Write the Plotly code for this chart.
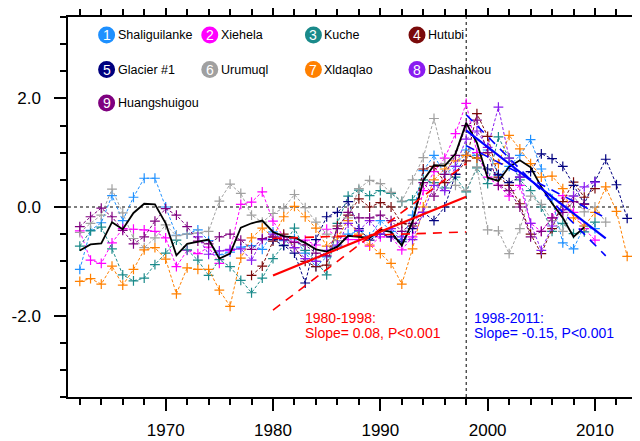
import plotly.graph_objects as go

# ---------------- data ----------------
names = ["Shaliguilanke", "Xiehela", "Kuche", "Hutubi", "Glacier #1",
         "Urumuql", "Xldaqlao", "Dashankou", "Huangshuigou"]
colors = ["#1E90FF", "#FF00FF", "#1A8A8A", "#7A0A0A", "#00007F",
          "#A0A0A0", "#FF8000", "#8A1CF0", "#7F007F"]

start_years = [1962, 1962, 1962, 1978, 1980, 1962, 1962, 1973, 1962]

shaliguilanke = [-1.15, -0.43, -0.29, 0.21, -0.25, 0.18, 0.53, 0.53,
                 0.00, -0.52, -0.50, -0.42, -0.62, -0.88, -0.83, -0.74, -0.71, -0.78,
                 -0.46, -0.62, -0.58, -0.85, -1.10, -0.92, -0.72, -0.50, -0.45, -0.55,
                 -0.25, -0.45, -0.60, -0.15, 0.67, 0.95, 0.60, 0.75, 1.05, 0.95,
                 1.05, 0.58, 0.75, 0.95, 1.24, 0.70, 0.15, -0.66, -0.77, -0.35, -0.40]
xiehela = [-0.44, -0.98, -1.04, -0.66, -0.40, -0.41, -0.42, -0.45,
           -0.57, -1.10, -0.80, -0.86, -0.74, -1.04, -0.80, 0.05, 0.09, 0.28,
           -0.26, -0.55, -0.65, -0.61, -0.70, -0.41, -0.55, -0.60, -0.60, -0.72,
           -0.55, -0.55, -0.79, -0.55, 0.30, 0.65, 0.90, 1.35, 1.91, 1.00,
           0.55, 0.40, 0.20, 0.40, -0.30, -0.45, -0.20, 0.21, -0.10, -0.40, -0.61]
kuche = [-0.72, -0.44, -0.37, -0.77, -1.25, -1.36, -1.31, -1.06,
         -0.85, -0.61, -0.79, -0.98, -1.26, -0.97, -1.10, -1.35, -1.58, -1.31,
         -0.95, -0.70, -0.39, -0.80, -1.00, -1.25, -0.30, 0.20, 0.31, 0.21,
         0.30, 0.25, 0.10, 0.13, 0.50, 0.45, 0.35, 0.55, 0.28, 0.72,
         0.43, 1.29, 0.90, 0.50, 0.30, 0.00, -0.45, -0.30, -0.49, -0.46, -0.28]
hutubi = [-1.26, -1.09,
          -0.63, -0.50, -0.75, -1.00, -1.10, -1.07, -0.35, -0.15, 0.15, 0.00,
          0.08, 0.00, -0.30, -0.35, 0.70, 0.75, 0.45, 0.60, 0.85, 1.72,
          1.30, 0.55, 0.40, 0.06, -0.50, -0.86, -0.40, 0.10, 0.46, 0.18, 0.34]
glacier1 = [-0.60, -0.71, -0.85, -1.40, -0.60, -0.18, -0.10, 0.10, -0.40, -0.61,
            -0.50, -0.55, -0.64, -0.40, -0.10, -0.25, 0.00, 0.60, 0.95, 0.90,
            0.70, 0.60, 0.45, 0.55, 0.65, 0.98, 0.89, 0.75, 0.40, 0.06, 0.47, 0.88, 0.41, -0.21]
urumuqi = [-0.47, -0.30, -0.15, 0.33, -0.11, -0.58, -0.75, -0.57,
           -0.33, -0.53, -0.50, -0.48, -0.45, 0.11, 0.42, 0.25, -0.15, -0.28,
           -0.12, -0.02, 0.23, -0.01, -0.28, -0.50, -0.62, -0.20, 0.34, 0.49,
           0.43, 0.27, 0.11, 0.50, 0.91, 1.63, 0.80, 0.40, 0.30, 0.74,
           -0.42, -0.44, -0.86, -0.40, 0.20, 0.05, -0.25, -0.45, 0.21, -0.09, 0.00, -0.28]
xidaqiao = [-1.37, -1.32, -1.42, -1.09, -1.44, -1.15, -0.79, -0.75,
            -0.96, -1.60, -1.12, -1.15, -1.15, -1.53, -1.83, -0.94, -0.57, -0.39,
            -0.55, -0.18, 0.01, -0.18, -0.39, -0.72, -0.55, -0.25, -0.50, -0.70,
            -0.86, -1.04, -1.42, -0.77, 0.00, 0.50, 0.70, 0.85, 0.95, 0.90,
            1.00, 0.80, 1.32, 1.07, 0.80, 0.55, 0.57, 0.34, -0.20, -0.35, -0.10, 0.37, -0.08, -0.91, -0.91]
dashankou = [-0.55, -0.87, -0.81, -0.78, -0.77, -0.98, -0.60,
             -0.50, -0.60, -0.75, -0.95, -1.00, -0.80, -0.70, -0.30, -0.43, -0.25,
             -0.50, -0.40, -0.55, -0.60, -0.10, 0.40, 0.30, 0.75, 1.25, 1.40,
             1.10, 1.84, 0.90, 0.55, -0.30, -0.80, -0.35, -0.05, 0.20, 0.37, 0.46]
huangshuigou = [-0.36, -0.18, -0.02, -0.18, -0.43, -0.68, -0.55, -0.26,
                -0.03, -0.15, -0.36, -0.63, -0.68, -0.55, -0.50, -0.61, -0.78, -0.58,
                -0.55, -0.60, -0.65, -0.70, -0.85, -0.90, -0.40, -0.10, -0.20, -0.20,
                -0.15, -0.25, -0.45, -0.30, 0.45, 0.20, 0.60, 0.95, 1.50, 1.60,
                1.00, 0.40, 0.30, 0.00, -0.55, -0.45, -0.20, -0.10, 0.10, 0.05]

series = [shaliguilanke, xiehela, kuche, hutubi, glacier1,
          urumuqi, xidaqiao, dashankou, huangshuigou]

mean_start = 1962
mean_series = [-0.80, -0.69, -0.67, -0.28, -0.41, -0.11, 0.06, 0.05,
               -0.30, -0.89, -0.68, -0.64, -0.60, -0.95, -0.86, -0.38, -0.30, -0.25,
               -0.46, -0.54, -0.56, -0.66, -0.78, -0.82, -0.73, -0.53, -0.55, -0.57,
               -0.42, -0.46, -0.71, -0.27, 0.49, 0.77, 0.76, 0.98, 1.55, 1.18,
               0.54, 0.48, 0.74, 0.86, 0.73, 0.37, 0.07, -0.20, -0.55, -0.37]

red_years = [1980, 1998]
red_fit = [-1.26, 0.19]
red_upper = [-1.90, 0.80]
red_lower = [-0.58, -0.46]

blue_years = [1998, 2011]
blue_fit = [1.41, -0.58]
blue_upper = [1.70, -0.90]
blue_lower = [1.13, -0.20]

break_year = 1998

y_tick_vals = [-2.0, 0.0, 2.0]
y_tick_text = ["-2.0", "0.0", "2.0"]

red_label = ["1980-1998:", "Slope= 0.08, P<0.001"]
blue_label = ["1998-2011:", "Slope= -0.15, P<0.001"]

# ---------------- figure ----------------
FONT = "Liberation Sans, Arial, Helvetica, sans-serif"
fig = go.Figure()

for vals, start, col in zip(series, start_years, colors):
    yrs = list(range(start, start + len(vals)))
    fig.add_trace(go.Scatter(
        x=yrs, y=vals, mode="lines+markers",
        line=dict(color=col, width=1, dash="3px,2px"),
        marker=dict(symbol="cross-thin", size=7, line=dict(color=col, width=1.2)),
        showlegend=False, hoverinfo="skip"))

fig.add_trace(go.Scatter(
    x=list(range(mean_start, mean_start + len(mean_series))), y=mean_series,
    mode="lines", line=dict(color="black", width=1.8), showlegend=False))

for yv, dash, w in [(red_fit, "solid", 2.2), (red_upper, "9px,7px", 1.6), (red_lower, "9px,7px", 1.6)]:
    fig.add_trace(go.Scatter(x=red_years, y=yv, mode="lines",
                             line=dict(color="#FF0000", width=w, dash=dash), showlegend=False))
for yv, dash, w in [(blue_fit, "solid", 2.2), (blue_upper, "9px,7px", 1.6), (blue_lower, "9px,7px", 1.6)]:
    fig.add_trace(go.Scatter(x=blue_years, y=yv, mode="lines",
                             line=dict(color="#0000FF", width=w, dash=dash), showlegend=False))

shapes = [
    dict(type="line", xref="paper", yref="y", x0=0, x1=1, y0=0, y1=0,
         line=dict(color="#555555", width=1.5, dash="dot"), layer="below"),
    dict(type="line", xref="x", yref="paper", x0=break_year, x1=break_year, y0=0, y1=1,
         line=dict(color="black", width=1, dash="3px,3px"), layer="below"),
]

annotations = []
# legend block (paper coords)
col_x = [0.0676, 0.2483, 0.4298, 0.6112]
row_y = [0.9526, 0.8616, 0.7737]
for i, (nm, col) in enumerate(zip(names, colors)):
    cx = col_x[i % 4]
    cy = row_y[i // 4]
    shapes.append(dict(type="circle", xref="paper", yref="paper",
                       xsizemode="pixel", ysizemode="pixel",
                       xanchor=cx, yanchor=cy, x0=-8.5, x1=8.5, y0=-8.5, y1=8.5,
                       fillcolor=col, line=dict(width=0)))
    annotations.append(dict(x=cx, y=cy, xref="paper", yref="paper", text=str(i + 1),
                            showarrow=False, font=dict(family=FONT, size=14, color="white"),
                            xanchor="center", yanchor="middle"))
    annotations.append(dict(x=cx + 0.0158, y=cy, xref="paper", yref="paper", text=nm,
                            showarrow=False, font=dict(family=FONT, size=12.5, color="black"),
                            xanchor="left", yanchor="middle"))

for lines, xpos, col in [(red_label, 1982.75, "#FF0000"), (blue_label, 1998.5, "#0000FF")]:
    for txt, ypos in zip(lines, [-2.05, -2.33]):
        annotations.append(dict(x=xpos, y=ypos, xref="x", yref="y", xanchor="left",
                                yanchor="middle", text=txt.replace("<", "&lt;"), showarrow=False,
                                font=dict(family=FONT, size=14, color=col)))

axis_common = dict(showline=True, linecolor="black", linewidth=1.5, mirror="ticks",
                   ticks="outside", ticklen=12, tickwidth=1.5, tickcolor="black",
                   showgrid=False, zeroline=False, automargin=False,
                   tickfont=dict(family=FONT, size=17, color="black"))

# The page body adds an 8px offset, so the figure is sized to fill the remaining window.
fig.update_layout(
    template="none",
    width=632, height=433,
    margin=dict(l=60, r=1, t=9, b=44),
    paper_bgcolor="white", plot_bgcolor="white",
    shapes=shapes, annotations=annotations,
    xaxis=dict(range=[1960.9, 2014.1], tick0=1970, dtick=10,
               minor=dict(tick0=1970, dtick=2, ticklen=6, tickwidth=1.5, ticks="outside", tickcolor="black"),
               ticklabelstandoff=5, **axis_common),
    yaxis=dict(range=[-3.5, 3.5], tickmode="array", tickvals=y_tick_vals, ticktext=y_tick_text,
               minor=dict(tickmode="linear", tick0=0, dtick=0.5, ticklen=6, tickwidth=1.5,
                          ticks="outside", tickcolor="black"),
               ticklabelstandoff=10, **axis_common),
)

fig.write_html("out.html")
